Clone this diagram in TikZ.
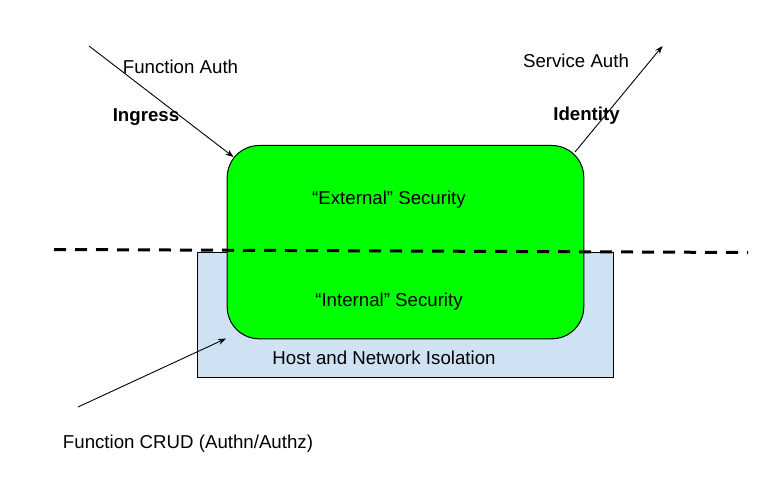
\documentclass[tikz,border=0pt]{standalone}
\usepackage{fontspec}
\setmainfont{Liberation Sans}
\usetikzlibrary{arrows.meta}
\definecolor{boxgreen}{HTML}{00FF00}
\definecolor{boxblue}{HTML}{CFE2F3}
\tikzset{
  lbl/.style={inner sep=0pt, anchor=base, font=\fontsize{18.67}{22}\selectfont},
  blbl/.style={inner sep=0pt, anchor=base, font=\fontsize{18.67}{22}\selectfont\bfseries},
  conn/.style={line width=0.9pt, -{Stealth[length=8pt,width=6pt]}},
}
\begin{document}
\begin{tikzpicture}[x=1pt,y=-1pt]
\useasboundingbox (0,0) rectangle (781,502);
% blue isolation box
\node[draw=black, line width=1pt, fill=boxblue, minimum width=416pt, minimum height=125pt, inner sep=0pt, anchor=north west] (host) at (197,252) {};
% green security box
\node[draw=black, line width=1pt, fill=boxgreen, rounded corners=32pt, minimum width=356.6pt, minimum height=193.3pt, inner sep=0pt, anchor=north west] (sec) at (226.7,145) {};
% dashed boundary
\coordinate (dl1) at (54,249.5);
\coordinate (dl2) at (748,252.5);
\draw[line width=3pt, dash pattern=on 12pt off 9pt] (dl1) -- (dl2);
% texts
\node[lbl] (fauth) at (180.5,74) {Function Auth};
\node[blbl] (ingress) at (146,121.5) {Ingress};
\node[lbl] (sauth) at (576,67.7) {Service Auth};
\node[blbl] (ident) at (586.5,121) {Identity};
\node[lbl] (ext) at (389,204.5) {“External” Security};
\node[lbl] (int) at (389,306) {“Internal” Security};
\node[lbl] (hni) at (384,364.6) {Host and Network Isolation};
\node[lbl] (crud) at (188,448) {Function CRUD (Authn/Authz)};
% connectors
\coordinate (a1s) at (89,46);
\coordinate (a1e) at (233.5,157);
\coordinate (a2s) at (575,152);
\coordinate (a2e) at (662.5,46);
\coordinate (a3s) at (78,407);
\coordinate (a3e) at (226,338.5);
\draw[conn] (a1s) -- (a1e);
\draw[conn] (a2s) -- (a2e);
\draw[conn] (a3s) -- (a3e);
\end{tikzpicture}
\end{document}
